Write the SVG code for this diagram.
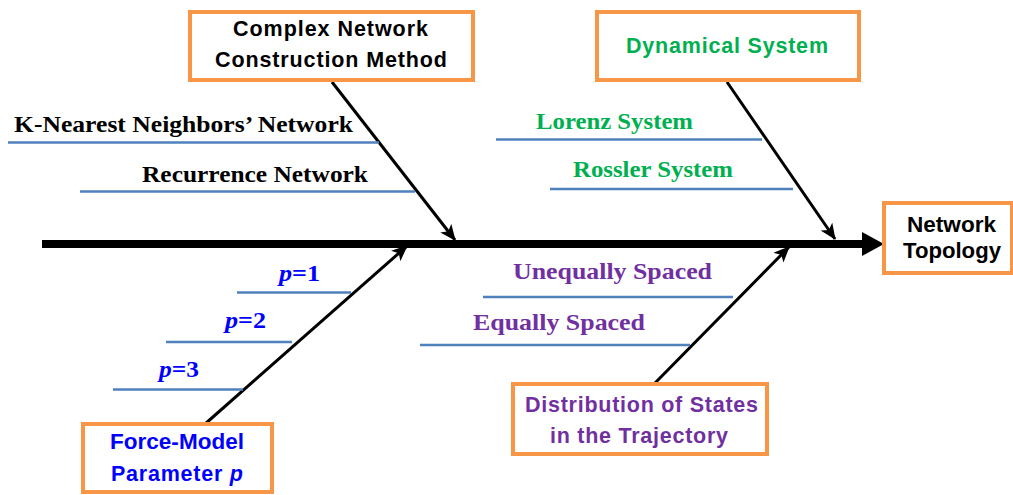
<svg xmlns="http://www.w3.org/2000/svg" width="1013" height="495" viewBox="0 0 1013 495">
<style>
.box{fill:#fff;stroke:#F79646;stroke-width:4}
.sans{font-family:"Liberation Sans",Arial,sans-serif;font-weight:bold;font-size:21.5px}
.serif{font-family:"Liberation Serif","Times New Roman",serif;font-weight:bold;font-size:23px}
.pp{font-size:24px}
.sub{stroke:#4F81BD;stroke-width:2.5;fill:none}
.bone{stroke:#000;stroke-width:3;fill:none}
.blk{fill:#000}.grn{fill:#00B050}.blu{fill:#0000FF}.pur{fill:#7030A0}
</style>
<defs>
<marker id="ah" markerUnits="userSpaceOnUse" markerWidth="16" markerHeight="14" refX="15" refY="7" orient="auto">
<path d="M0,0 L16,7 L0,14 L4,7 Z" fill="#000"/>
</marker>
</defs>
<g id="connectors">
<rect x="42" y="240" width="822" height="8" fill="#000"/>
<polygon points="862,232 884,244 862,256" fill="#000"/>
<line class="bone" x1="332" y1="82" x2="455" y2="240" marker-end="url(#ah)"/>
<line class="bone" x1="727" y1="82" x2="835" y2="239" marker-end="url(#ah)"/>
<line class="bone" x1="205" y1="424" x2="407" y2="246" marker-end="url(#ah)"/>
<line class="bone" x1="655" y1="383" x2="789" y2="247" marker-end="url(#ah)"/>
<line class="sub" x1="8" y1="142.5" x2="379" y2="142.5"/>
<line class="sub" x1="80" y1="191.5" x2="415" y2="191.5"/>
<line class="sub" x1="496" y1="139.5" x2="762" y2="139.5"/>
<line class="sub" x1="550" y1="189" x2="793" y2="189"/>
<line class="sub" x1="237" y1="292.5" x2="351" y2="292.5"/>
<line class="sub" x1="166" y1="342" x2="292" y2="342"/>
<line class="sub" x1="113" y1="389.5" x2="243" y2="389.5"/>
<line class="sub" x1="483" y1="297" x2="733" y2="297"/>
<line class="sub" x1="420" y1="345" x2="690" y2="345"/>
</g>
<g id="construction">
<rect class="box" x="190" y="12" width="283" height="68"/>
<text class="sans blk" x="233" y="36" textLength="195" lengthAdjust="spacing">Complex Network</text>
<text class="sans blk" x="215" y="67" textLength="232" lengthAdjust="spacing">Construction Method</text>
</g>
<g id="dynamical">
<rect class="box" x="597" y="12" width="262" height="68"/>
<text class="sans grn" x="626" y="53" textLength="202" lengthAdjust="spacing">Dynamical System</text>
</g>
<g id="topology">
<rect class="box" x="884" y="203" width="128" height="70"/>
<text class="sans blk" x="907" y="232" textLength="89" lengthAdjust="spacingAndGlyphs">Network</text>
<text class="sans blk" x="903" y="258" textLength="98" lengthAdjust="spacingAndGlyphs">Topology</text>
</g>
<g id="force">
<rect class="box" x="83" y="424" width="189" height="68"/>
<text class="sans blu" x="110" y="449" textLength="134" lengthAdjust="spacingAndGlyphs">Force-Model</text>
<text class="sans blu" x="111" y="481" textLength="132" lengthAdjust="spacing">Parameter <tspan font-style="italic">p</tspan></text>
</g>
<g id="distribution">
<rect class="box" x="513" y="384" width="254" height="70"/>
<text class="sans pur" x="525" y="412" textLength="233" lengthAdjust="spacing">Distribution of States</text>
<text class="sans pur" x="550" y="443" textLength="178" lengthAdjust="spacing">in the Trajectory</text>
</g>
<g id="knn"><text class="serif blk" x="14" y="132" textLength="339" lengthAdjust="spacingAndGlyphs">K-Nearest Neighbors’ Network</text></g>
<g id="recurrence"><text class="serif blk" x="142" y="182" textLength="226" lengthAdjust="spacingAndGlyphs">Recurrence Network</text></g>
<g id="lorenz"><text class="serif grn" x="536" y="129" textLength="157" lengthAdjust="spacingAndGlyphs">Lorenz System</text></g>
<g id="rossler"><text class="serif grn" x="573" y="177" textLength="160" lengthAdjust="spacingAndGlyphs">Rossler System</text></g>
<g id="p1"><text class="serif pp blu" x="279" y="281" textLength="41" lengthAdjust="spacingAndGlyphs"><tspan font-style="italic">p</tspan>=1</text></g>
<g id="p2"><text class="serif pp blu" x="225" y="328" textLength="41" lengthAdjust="spacingAndGlyphs"><tspan font-style="italic">p</tspan>=2</text></g>
<g id="p3"><text class="serif pp blu" x="159" y="377" textLength="40" lengthAdjust="spacingAndGlyphs"><tspan font-style="italic">p</tspan>=3</text></g>
<g id="unequal"><text class="serif pur" x="513" y="279" textLength="199" lengthAdjust="spacingAndGlyphs">Unequally Spaced</text></g>
<g id="equal"><text class="serif pur" x="473" y="330" textLength="172" lengthAdjust="spacingAndGlyphs">Equally Spaced</text></g>
</svg>
